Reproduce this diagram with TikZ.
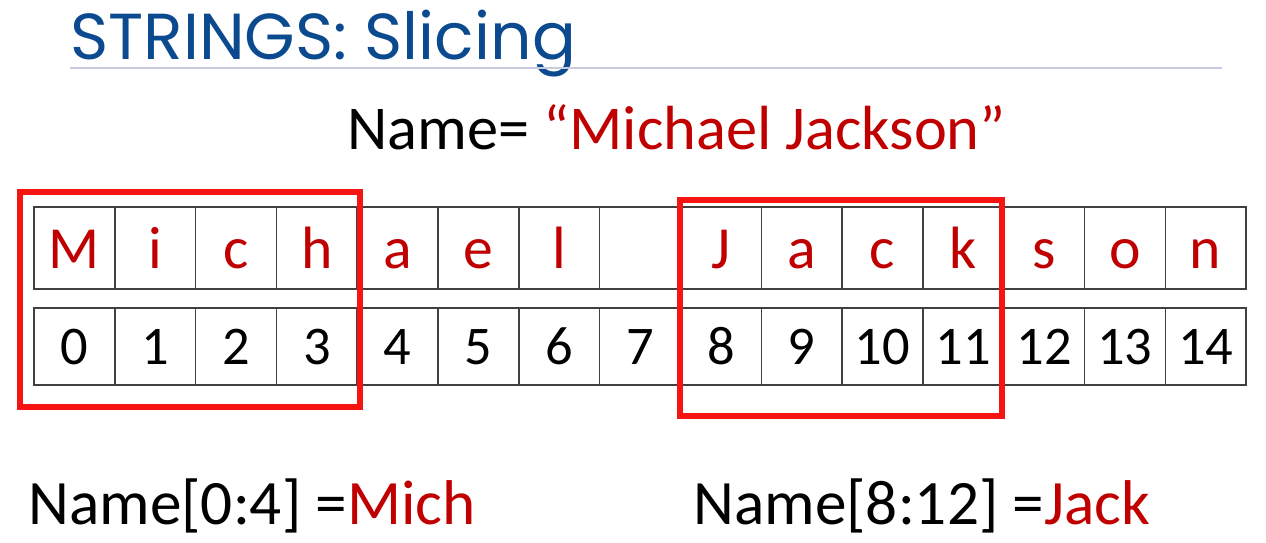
\documentclass[tikz,border=0pt]{standalone}
\usepackage{fontspec}
\setmainfont{Carlito}
\newfontfamily\titlefont{Poppins}
\usepackage{tikz}
\usetikzlibrary{positioning}
\definecolor{titleblue}{HTML}{0B4A8F}
\definecolor{textred}{HTML}{C00000}
\definecolor{boxred}{HTML}{F5140F}
\definecolor{rulegray}{HTML}{C8CCDC}
\tikzstyle{letter} = [rectangle, draw=black!75, line width=0.8pt, minimum width=1.616cm, minimum height=1.64cm, inner sep=0pt, text height=23.8pt, text depth=0pt, text=textred, font=\fontsize{34}{40}\selectfont]
\tikzstyle{index} = [rectangle, draw=black!75, line width=0.8pt, minimum width=1.616cm, minimum height=1.54cm, inner sep=0pt, text height=21pt, text depth=0pt, font=\fontsize{31}{36}\selectfont]
\tikzstyle{slice} = [draw=boxred, line width=3pt]
\tikzstyle{caption} = [anchor=base west, inner sep=0pt]

\begin{document}
\begin{tikzpicture}[x=0.02cm, y=-0.02cm]
\useasboundingbox (0,0) rectangle (1266,543);
% title and rule
\node (title) [caption, text=titleblue, font=\titlefont\fontsize{37}{40}\selectfont] at (70,60) {STRINGS: Slicing};
\draw [rulegray, line width=1pt] (70,68) -- (1222,68);
\node (name) [caption, font=\fontsize{35.5}{40}\selectfont] at (347,150) {Name= \textcolor{textred}{“Michael Jackson”}};

% the two rows
\foreach \ch [count=\i from 0] in {M,i,c,h,a,e,l,{},J,a,c,k,s,o,n}
  \node (l\i) [letter] at ({74.4+80.8*\i},248) {\ch};
\foreach \i in {0,...,14}
  \node (n\i) [index] at ({74.4+80.8*\i},346.5) {\i};

% slices
\draw [slice] (20,192) rectangle (360,407);
\draw [slice] (680,200) rectangle (1002,416);

\node (mich) [caption, font=\fontsize{36}{42}\selectfont] at (28,524) {Name[0:4] =\textcolor{textred}{Mich}};
\node (jack) [caption, font=\fontsize{36}{42}\selectfont] at (693,524) {Name[8:12] =\textcolor{textred}{Jack}};
\end{tikzpicture}
\end{document}
